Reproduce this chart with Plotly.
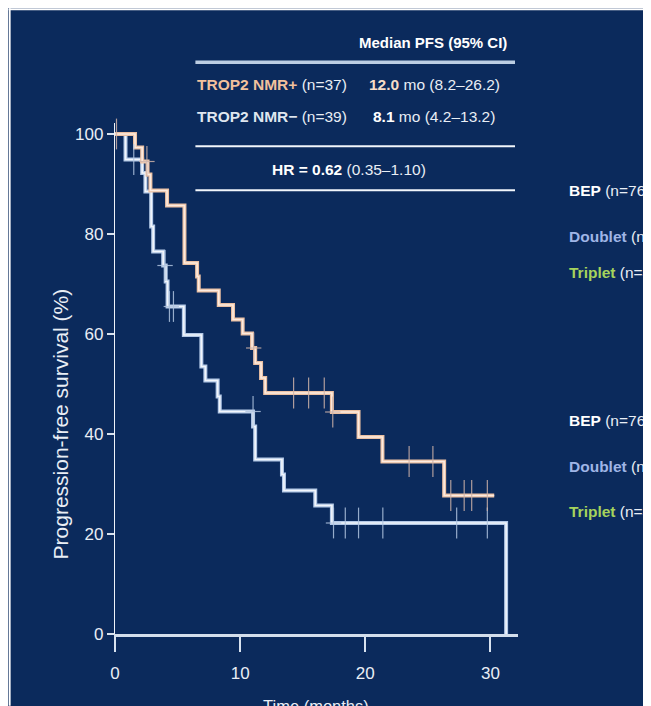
import plotly.graph_objects as go

# ---------------- data ----------------
# TROP2 NMR+ (peach) Kaplan-Meier steps: time (months) and survival (%)
pos_t = [0, 1.6, 2.17, 2.6, 2.83, 4.16, 5.55, 6.56, 6.69, 8.29, 9.43, 10.2, 10.95, 11.2, 11.67, 12.0, 17.33, 19.46, 21.37, 26.3, 30.3]
pos_s = [100, 97.3, 94.5, 91.9, 88.7, 85.7, 74.2, 71.5, 68.7, 65.8, 62.9, 60.1, 57.2, 54.2, 51.2, 48.2, 44.4, 39.4, 34.5, 27.7, 27.7]
pos_cens_t = [0.12, 2.55, 11.08, 14.27, 15.47, 16.72, 17.4, 23.5, 25.4, 26.83, 27.9, 28.5, 29.75]
pos_cens_s = [100, 94.5, 57.2, 48.2, 48.2, 48.2, 44.4, 34.5, 34.5, 27.7, 27.7, 27.7, 27.7]
pos_cross_t = [2.55, 11.08, 17.4]
pos_cross_s = [94.5, 57.2, 44.4]

# TROP2 NMR- (light blue)
neg_t = [0, 0.84, 2.17, 2.43, 2.89, 3.05, 3.85, 4.05, 4.2, 5.5, 6.9, 7.22, 8.2, 8.37, 11.03, 11.2, 13.34, 13.5, 16.0, 17.33, 31.25, 31.25]
neg_s = [100, 94.9, 92.2, 88.5, 81.5, 76.5, 73.7, 70.5, 65.5, 59.8, 53.5, 50.7, 47.5, 44.5, 41.5, 34.9, 31.9, 28.7, 25.7, 22.2, 22.2, 0]
neg_cens_t = [1.5, 4.0, 4.35, 4.67, 11.03, 17.46, 18.4, 19.46, 21.4, 27.3, 29.75]
neg_cens_s = [94.9, 73.7, 65.5, 65.5, 44.5, 22.2, 22.2, 22.2, 22.2, 22.2, 22.2]
neg_cross_t = [4.0, 4.5, 11.03, 17.46]
neg_cross_s = [73.7, 65.5, 44.5, 22.2]

x_ticks = [0, 10, 20, 30]
y_ticks = [0, 20, 40, 60, 80, 100]

# ---------------- layout geometry ----------------
OFF = 8                      # page offset of the figure (body margin)
W, H = 643, 698
L, T = 106.5, 114.8
PW, PH = 403.5, 511.5
R, B = W - L - PW, H - T - PH


def px(x):                   # page pixel -> paper x
    return (x - OFF - L) / PW


def py(y):                   # page pixel -> paper y
    return (T + PH - (y - OFF)) / PH


NAVY = "#0b2a5c"
LIGHT = "#e9eef5"
PEACH = "#f2c19d"
FONT = "Liberation Sans, Arial, sans-serif"

fig = go.Figure()

# NMR- curve
fig.add_trace(go.Scatter(x=neg_t, y=neg_s, mode="lines", line=dict(shape="hv", color="#b3c8e6", width=4),
                         cliponaxis=False, hoverinfo="skip"))
fig.add_trace(go.Scatter(x=neg_t, y=neg_s, mode="lines", line=dict(shape="hv", color="#f2f6fc", width=1.6),
                         cliponaxis=False, hoverinfo="skip"))
# NMR+ curve
fig.add_trace(go.Scatter(x=pos_t, y=pos_s, mode="lines", line=dict(shape="hv", color="#ebc0a3", width=4),
                         cliponaxis=False, hoverinfo="skip"))
fig.add_trace(go.Scatter(x=pos_t, y=pos_s, mode="lines", line=dict(shape="hv", color="#fcebe1", width=1.6),
                         cliponaxis=False, hoverinfo="skip"))

# censor marks
for ct, cs, col in [(neg_cens_t, neg_cens_s, "rgba(175,195,222,0.85)"),
                    (pos_cens_t, pos_cens_s, "rgba(205,178,168,0.85)")]:
    fig.add_trace(go.Scatter(x=ct, y=cs, mode="markers", cliponaxis=False, hoverinfo="skip",
                             marker=dict(symbol="line-ns", size=22, line=dict(color=col, width=1.2))))
for ct, cs, col in [(neg_cross_t, neg_cross_s, "rgba(175,195,222,0.85)"),
                    (pos_cross_t, pos_cross_s, "rgba(205,178,168,0.85)")]:
    fig.add_trace(go.Scatter(x=ct, y=cs, mode="markers", cliponaxis=False, hoverinfo="skip",
                             marker=dict(symbol="line-ew", size=11, line=dict(color=col, width=1.2))))

shapes = [
    # thin white strips on left and top
    dict(type="rect", xref="paper", yref="paper", x0=px(OFF), x1=px(OFF + 2), y0=py(OFF + H), y1=py(OFF),
         fillcolor="white", line=dict(width=0), layer="above"),
    dict(type="rect", xref="paper", yref="paper", x0=px(OFF), x1=px(OFF + W), y0=py(OFF + 2), y1=py(OFF),
         fillcolor="white", line=dict(width=0), layer="above"),
    # table rules
    dict(type="line", xref="paper", yref="paper", x0=px(195), x1=px(515), y0=py(62), y1=py(62),
         line=dict(color="#bccde2", width=3.5)),
    dict(type="line", xref="paper", yref="paper", x0=px(195), x1=px(515), y0=py(146), y1=py(146),
         line=dict(color="#f2f6fb", width=2)),
    dict(type="line", xref="paper", yref="paper", x0=px(195), x1=px(515), y0=py(190), y1=py(190),
         line=dict(color="#f2f6fb", width=2)),
]

ann = []


def add_text(text, x, y, size=15.5, xanchor="center", color=LIGHT, angle=0):
    ann.append(dict(text=text, x=px(x), y=py(y), xref="paper", yref="paper", showarrow=False,
                    xanchor=xanchor, yanchor="middle", textangle=angle,
                    font=dict(family=FONT, size=size, color=color)))


add_text("<b>Median PFS (95% CI)</b>", 433, 42, size=15, color="#ffffff")
add_text(f"<b><span style='color:{PEACH}'>TROP2 NMR+</span></b> (n=37)", 272, 84)
add_text("<b><span style='color:#f6dcc8'>12.0</span></b> mo (8.2–26.2)", 434, 84)
add_text("<b><span style='color:#dfe6ef'>TROP2 NMR−</span></b> (n=39)", 272, 116)
add_text("<b><span style='color:#ffffff'>8.1</span></b> mo (4.2–13.2)", 434, 116)
add_text("<b><span style='color:#ffffff'>HR = 0.62</span></b> (0.35–1.10)", 349, 169)

for y0 in (190, 421):
    add_text("<b><span style='color:#ffffff'>BEP</span></b> (n=76)", 567, y0, xanchor="left")
add_text("<b><span style='color:#9fb5e6'>Doublet</span></b> (n=32)", 567, 236, xanchor="left")
add_text("<b><span style='color:#a5d35c'>Triplet</span></b> (n=44)", 567, 272, xanchor="left")
add_text("<b><span style='color:#9fb5e6'>Doublet</span></b> (n=32)", 567, 467, xanchor="left")
add_text("<b><span style='color:#a5d35c'>Triplet</span></b> (n=44)", 567, 512, xanchor="left")

add_text("Progression-free survival (%)", 60, 424, size=21, angle=-90)
add_text("Time (months)", 316, 706, size=16.5)

fig.update_layout(
    width=W, height=H,
    margin=dict(l=L, r=R, t=T, b=B, pad=0),
    paper_bgcolor=NAVY, plot_bgcolor=NAVY,
    showlegend=False,
    shapes=shapes, annotations=ann,
    xaxis=dict(range=[0, 32.2], tickvals=x_ticks, ticks="outside", ticklen=15, tickwidth=1.5,
               tickcolor="#d8e2ef", showline=True, linecolor="#d3deec", linewidth=2.5,
               showgrid=False, zeroline=False, ticklabelstandoff=7,
               tickfont=dict(family=FONT, size=17, color=LIGHT)),
    yaxis=dict(range=[0, 102.2], tickvals=y_ticks, ticks="outside", ticklen=7, tickwidth=1.5,
               tickcolor="#d8e2ef", showline=True, linecolor="#eef2f8", linewidth=1.3,
               showgrid=False, zeroline=False,
               tickfont=dict(family=FONT, size=17, color=LIGHT)),
)

fig.write_html("out.html")
